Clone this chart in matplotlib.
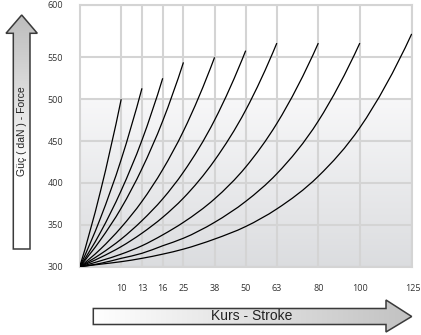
import numpy as np
import matplotlib.pyplot as plt
import matplotlib.transforms as mtransforms
from matplotlib.path import Path
from matplotlib.patches import PathPatch, Polygon

# stroke classes (x axis) and the force
stroke_labels = ['10', '13', '16', '25', '38', '50', '63', '80', '100', '125']
force_ticks = [300, 350, 400, 450, 500, 550]

# stroke slots on the x axis (the axis is not to scale)
slots = [2, 3, 4, 5, 6.5, 8, 9.5, 11.5, 13.5, 16]
sample_x = [0, 1, 2, 3, 4, 5, 6.5, 8, 9.5, 11.5, 13.5, 16]

# force (daN) at sample_x, until the curve ends
force_10 = [300, 390, 500]
force_13 = [300, 358, 428, 513]
force_16 = [300, 341, 391, 451, 525]
force_25 = [300, 332, 370, 417, 474, 544]
force_38 = [300, 321, 347, 378, 416, 462, 550]
force_50 = [300, 315, 333, 355, 381, 413, 475, 558]
force_63 = [300, 311, 324, 340, 359, 382, 427, 487, 567]
force_80 = [300, 307, 315, 325, 338, 353, 381, 419, 471, 567]
force_100 = [300, 304, 310, 316, 325, 334, 353, 378, 411, 474, 567]
force_125 = [300, 303, 306, 310, 315, 321, 333, 348, 369, 408, 466, 578]

curves = [force_10, force_13, force_16, force_25, force_38,
          force_50, force_63, force_80, force_100, force_125]


def smooth_path(xs, ys):
    # cubic hermite through the read points, drawn as bezier segments
    x = np.asarray(xs, float)
    y = np.asarray(ys, float)
    h = np.diff(x)
    d = np.diff(y) / h
    m = np.empty_like(y)
    m[1:-1] = (h[1:] * d[:-1] + h[:-1] * d[1:]) / (h[:-1] + h[1:])
    m[0] = ((2 * h[0] + h[1]) * d[0] - h[0] * d[1]) / (h[0] + h[1])
    m[-1] = ((2 * h[-1] + h[-2]) * d[-1] - h[-1] * d[-2]) / (h[-1] + h[-2])
    verts = [(x[0], y[0])]
    codes = [Path.MOVETO]
    for i in range(len(x) - 1):
        verts += [(x[i] + h[i] / 3, y[i] + m[i] * h[i] / 3),
                  (x[i + 1] - h[i] / 3, y[i + 1] - m[i + 1] * h[i] / 3),
                  (x[i + 1], y[i + 1])]
        codes += [Path.CURVE4] * 3
    return Path(verts, codes)


W, H = 421, 335
fig = plt.figure(figsize=(W / 100, H / 100), dpi=100, facecolor='white')
ax = fig.add_axes([79.7 / W, 1 - 266.7 / H, 332 / W, 261.7 / H])

# background: white on top, light grey gradient towards the bottom
n = 300
frac = np.linspace(1, 0, n)
top = np.array([0.97, 0.97, 0.975])
bot = np.array([0.86, 0.865, 0.875])
k = np.clip(frac / 0.64, 0, 1)[:, None]
grad = np.where(frac[:, None] > 0.64, 1.0, bot + (top - bot) * k)
grad = np.repeat(grad[:, None, :], 2, axis=1)
ax.imshow(grad, extent=(0, 1, 0, 1), transform=ax.transAxes,
          aspect='auto', interpolation='bilinear', zorder=0)

for f in curves:
    ax.add_patch(PathPatch(smooth_path(sample_x[:len(f)], f),
                           facecolor='none', edgecolor='black', lw=0.9, zorder=3))

ax.set_xlim(0, 16)
ax.set_ylim(300, 612.5)
ax.set_xticks(slots)
ax.set_xticklabels(stroke_labels)
ax.set_yticks(force_ticks + [612.5])
ax.set_yticklabels([str(v) for v in force_ticks] + ['600'])
ax.grid(True, color='#d4d4d4', lw=1.5)
ax.set_axisbelow(True)
for s in ax.spines.values():
    s.set_color('#d4d4d4')
    s.set_linewidth(1.5)
ax.tick_params(axis='both', length=0, labelsize=6.5, labelcolor='#333333')
ax.tick_params(axis='y', pad=12)
ax.tick_params(axis='x', pad=12.5)
for lab in ax.get_xticklabels() + ax.get_yticklabels():
    lab.set_family('Open Sans')
# last stroke label sits a hair right of the frame
last = ax.get_xticklabels()[-1]
last.set_transform(last.get_transform() +
                   mtransforms.ScaledTranslation(0.01, 0, fig.dpi_scale_trans))

# arrows around the chart, drawn in pixel coordinates
ov = fig.add_axes([0, 0, 1, 1])
ov.axis('off')

up = Polygon([(13.3, 249), (13.3, 33.3), (6, 33.3), (21.7, 15), (37.3, 33.3),
              (30, 33.3), (30, 249)], closed=True, fc='none', ec='#3a3a3a', lw=1.1, zorder=3)
ov.add_patch(up)
g = np.clip(np.linspace(0.74, 1.0, 200) + np.linspace(0, 0.12, 200), 0, 1)
img = ov.imshow(np.repeat(g[:, None, None], 3, axis=2).repeat(2, axis=1),
                extent=(6, 37.3, 249, 15), aspect='auto', interpolation='bilinear', zorder=2)
img.set_clip_path(up)

right = Polygon([(93.3, 308.5), (386, 308.5), (386, 300), (411.7, 316.5), (386, 332),
                 (386, 324.5), (93.3, 324.5)], closed=True, fc='none', ec='#3a3a3a', lw=1.1, zorder=3)
ov.add_patch(right)
hg = np.linspace(1.0, 0.76, 200)
img2 = ov.imshow(np.repeat(hg[None, :, None], 3, axis=2).repeat(2, axis=0),
                 extent=(93.3, 411.7, 332, 300), aspect='auto', interpolation='bilinear', zorder=2)
img2.set_clip_path(right)

ov.set_xlim(0, W)
ov.set_ylim(H, 0)
ov.text(21.7, 131, 'Güç ( daN ) - Force', rotation=90, ha='center', va='center',
        fontsize=7.5, family='Liberation Sans', color='#222222')
ov.text(252, 316.5, 'Kurs - Stroke', ha='center', va='center',
        fontsize=10, family='Liberation Sans', color='#222222')

fig.savefig('out.png', dpi=100)
